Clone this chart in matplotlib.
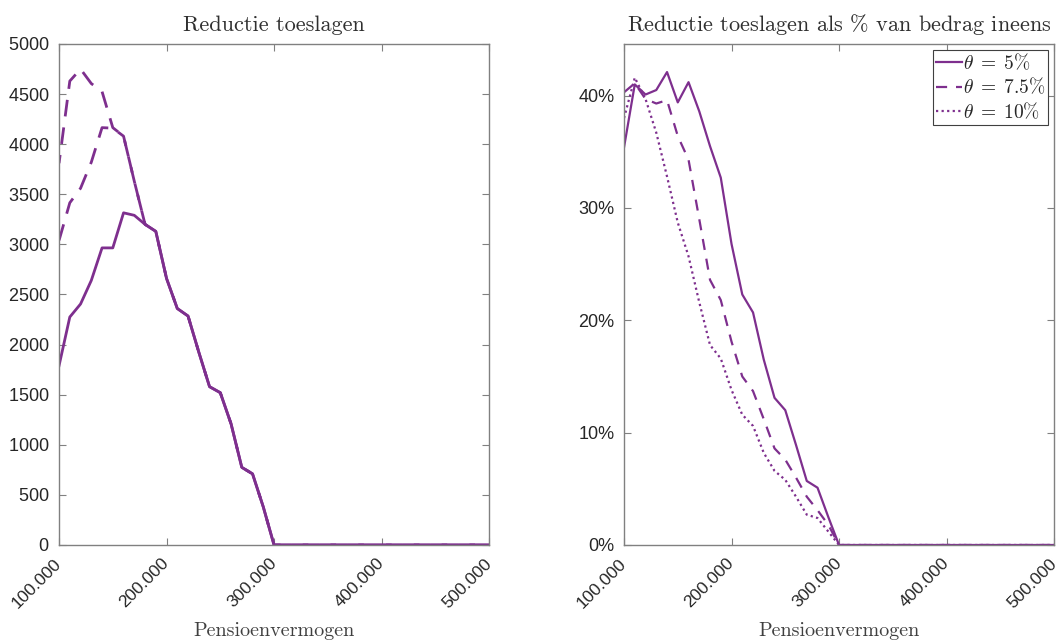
import matplotlib
matplotlib.use("Agg")
import matplotlib.pyplot as plt
from matplotlib.ticker import FuncFormatter

# pensioenvermogen (x-as)
vermogen = [100000, 110000, 120000, 130000, 140000, 150000, 160000, 170000, 180000, 190000,
            200000, 210000, 220000, 230000, 240000, 250000, 260000, 270000, 280000, 290000,
            300000, 500000]

# reductie toeslagen (euro)
red_5 = [1790, 2275, 2405, 2640, 2965, 2965, 3315, 3290, 3200, 3130,
         2660, 2360, 2285, 1925, 1580, 1520, 1210, 775, 710, 380, 0, 0]
red_75 = [3040, 3415, 3560, 3820, 4165, 4160, 4080, 3630, 3200, 3130,
          2660, 2360, 2285, 1925, 1580, 1520, 1210, 775, 710, 380, 0, 0]
red_10 = [3810, 4630, 4750, 4605, 4525, 4165, 4080, 3630, 3200, 3130,
          2660, 2360, 2285, 1925, 1580, 1520, 1210, 775, 710, 380, 0, 0]

# reductie als % van bedrag ineens
pct_5 = [35.4, 41.0, 40.1, 40.5, 42.1, 39.4, 41.2, 38.6, 35.5, 32.7,
         26.8, 22.3, 20.7, 16.5, 13.1, 12.0, 8.9, 5.7, 5.1, 2.5, 0, 0]
pct_75 = [40.3, 41.1, 39.7, 39.3, 39.6, 36.4, 34.3, 29.0, 23.6, 21.8,
          18.1, 15.0, 13.7, 11.2, 8.6, 7.6, 6.0, 4.3, 3.1, 1.8, 0, 0]
pct_10 = [38.0, 41.6, 39.7, 36.7, 32.8, 28.7, 25.7, 21.6, 17.8, 16.6,
          13.8, 11.6, 10.6, 8.2, 6.6, 5.8, 4.3, 2.7, 2.4, 1.2, 0, 0]

xticks = [100000, 200000, 300000, 400000, 500000]
xticklabels = ['100.000', '200.000', '300.000', '400.000', '500.000']
labels = [r'$\theta \;=\; 5\%$', r'$\theta \;=\; 7.5\%$', r'$\theta \;=\; 10\%$']

paars = '#7E2F8E'
plt.rcParams['mathtext.fontset'] = 'cm'
plt.rcParams['axes.formatter.use_mathtext'] = True
serif = 'cmr10'
sans = ['Liberation Sans', 'DejaVu Sans']

fig = plt.figure(figsize=(10.64, 6.42), dpi=100)
ax1 = fig.add_axes([0.0555, 0.1511, 0.4041, 0.7804])
ax2 = fig.add_axes([0.5865, 0.1511, 0.4041, 0.7804])


def opmaak(ax):
    ax.set_xlim(100000, 500000)
    ax.set_xticks(xticks)
    ax.set_xticklabels(xticklabels, rotation=45, ha='right', va='center',
                       rotation_mode='anchor', family=sans, fontsize=12.5)
    ax.tick_params(direction='in', top=True, right=True, length=5, width=0.8,
                   color='#808080', labelcolor='#262626')
    ax.tick_params(axis='y', pad=7, labelsize=13)
    ax.tick_params(axis='x', pad=11.5)
    for lab in ax.get_yticklabels():
        lab.set_family(sans)
    for sp in ax.spines.values():
        sp.set_color('#808080')
        sp.set_linewidth(1.0)
    ax.set_xlabel('Pensioenvermogen', family=serif, fontsize=14.5, color='#404040', labelpad=8)


# links: reductie in euro
ax1.plot(vermogen, red_5, color=paars, lw=2, ls='-', label=labels[0])
ax1.plot(vermogen, red_75, color=paars, lw=2, ls=(0, (6, 4)), label=labels[1])
ax1.plot(vermogen, red_10, color=paars, lw=2, ls=(3, (6, 4)), label=labels[2])
ax1.set_ylim(0, 5000)
ax1.set_yticks(range(0, 5001, 500))
opmaak(ax1)
ax1.set_title('Reductie toeslagen', family=serif, fontsize=16, color='#303030', pad=9)

# rechts: als percentage
ax2.plot(vermogen, [v / 100 for v in pct_5], color=paars, lw=1.6, ls='-', label=labels[0])
ax2.plot(vermogen, [v / 100 for v in pct_75], color=paars, lw=1.6, ls=(0, (5, 4)), label=labels[1])
ax2.plot(vermogen, [v / 100 for v in pct_10], color=paars, lw=1.6, ls=(0, (1, 1.5)), label=labels[2])
ax2.set_ylim(0, 0.446)
ax2.set_yticks([0, 0.1, 0.2, 0.3, 0.4])
ax2.yaxis.set_major_formatter(FuncFormatter(lambda v, p: f'{v * 100:.0f}%'))
opmaak(ax2)
ax2.set_title(r'Reductie toeslagen als $\%$ van bedrag ineens', family=serif, fontsize=16,
              color='#303030', pad=9)

leg = ax2.legend(loc='upper right', fontsize=14, handlelength=1.35, handletextpad=0.05,
                 borderpad=0.15, labelspacing=0.2, fancybox=False, framealpha=1,
                 borderaxespad=0.3)
leg.get_frame().set_edgecolor('#404040')
leg.get_frame().set_linewidth(0.8)
for t in leg.get_texts():
    t.set_color('#262626')

fig.savefig('out.png', dpi=100)
